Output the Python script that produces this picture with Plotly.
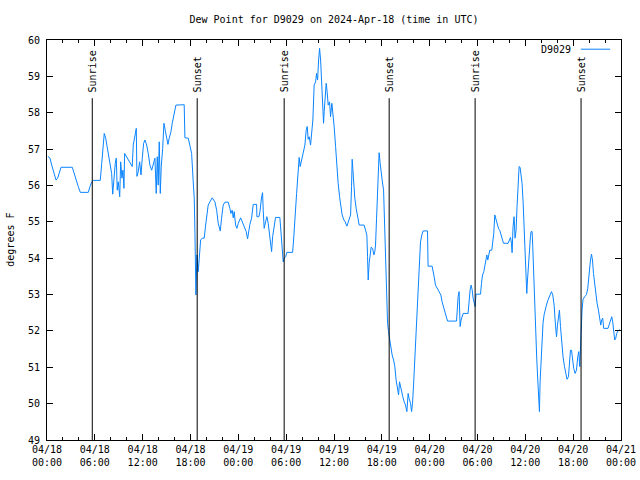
import pandas as pd
import plotly.graph_objects as go

# ---- data ----
start = "2024-04-18 00:00"
hours = [0.1, 0.38, 0.59, 0.79, 1.13, 1.34, 1.63, 1.76, 3.17, 3.42, 3.72, 3.92, 4.18, 5.18, 5.39, 5.60, 5.80, 6.68,
         6.86, 7.06, 7.18, 7.36, 7.61, 7.90, 8.11, 8.24, 8.40, 8.56, 8.69, 8.81, 8.94, 9.12, 9.24, 9.40, 9.53, 9.65,
         9.74, 9.99, 10.28, 10.53, 10.69, 10.82, 11.03, 11.20, 11.28, 11.45, 11.62, 11.79, 11.95, 12.12, 12.29, 12.50,
         12.70, 12.91, 13.13, 13.33, 13.54, 13.70, 13.83, 13.95, 14.08, 14.21, 14.33, 14.51, 14.67, 14.83, 15.01,
         15.17, 15.33, 15.55, 15.71, 15.96, 16.17, 17.21, 17.30, 17.72, 17.93, 18.14, 18.34, 18.47, 18.56, 18.68,
         18.81, 18.97, 19.10, 19.27, 19.47, 19.72, 19.90, 20.06, 20.22, 20.44, 20.72, 21.06, 21.28, 21.48, 21.73,
         21.90, 22.10, 22.32, 22.73, 22.94, 23.07, 23.23, 23.36, 23.48, 23.66, 23.82, 23.99, 24.29, 24.49, 24.74,
         24.99, 25.16, 25.33, 25.45, 25.66, 25.87, 26.29, 26.33, 26.58, 26.71, 26.92, 27.04, 27.12, 27.24, 27.42,
         27.58, 27.75, 27.92, 28.08, 28.17, 28.30, 28.46, 28.67, 29.21, 29.34, 29.50, 29.63, 29.75, 29.93, 30.09,
         30.81, 30.93, 31.06, 31.18, 31.31, 31.43, 31.56, 31.63, 31.76, 31.93, 32.18, 32.35, 32.51, 32.64, 32.76,
         32.89, 33.06, 33.23, 33.35, 33.51, 33.69, 33.81, 33.94, 34.07, 34.19, 34.32, 34.44, 34.57, 34.69, 34.77,
         34.89, 35.02, 35.14, 35.27, 35.44, 35.57, 35.73, 35.86, 36.02, 36.20, 36.36, 36.52, 36.70, 36.86, 37.02,
         37.24, 37.36, 37.62, 37.87, 38.08, 38.20, 38.28, 38.36, 38.45, 38.61, 38.78, 38.96, 39.16, 39.78, 39.96,
         40.12, 40.21, 40.29, 40.41, 40.54, 40.66, 40.84, 41.00, 41.12, 41.21, 41.34, 41.46, 41.59, 41.66, 41.79,
         41.91, 42.04, 42.22, 42.34, 42.47, 42.59, 42.72, 42.84, 43.00, 43.13, 43.29, 43.47, 43.63, 43.79, 43.97,
         44.10, 44.22, 44.35, 44.47, 44.63, 44.80, 44.97, 45.14, 45.22, 45.30, 45.42, 45.60, 45.73, 45.85, 45.98,
         46.10, 46.23, 46.35, 46.48, 46.60, 46.73, 46.85, 47.02, 47.18, 47.73, 47.80, 48.31, 48.43, 48.56, 48.73,
         48.99, 49.19, 49.40, 49.56, 49.74, 49.90, 50.07, 50.24, 51.37, 51.45, 51.57, 51.69, 51.82, 51.94, 52.07,
         52.20, 52.82, 52.95, 53.07, 53.20, 53.32, 53.45, 53.57, 53.70, 53.82, 54.38, 54.50, 54.63, 54.79, 54.92,
         55.04, 55.17, 55.29, 55.42, 55.54, 55.79, 55.92, 56.04, 56.17, 56.29, 56.46, 56.63, 56.80, 56.96, 57.13,
         57.26, 57.84, 57.96, 58.14, 58.26, 58.34, 58.46, 58.59, 58.71, 58.84, 58.96, 59.09, 59.22, 59.34, 59.47,
         59.59, 59.72, 59.84, 59.97, 60.09, 60.18, 60.27, 60.39, 60.52, 60.64, 60.72, 60.85, 60.93, 61.06, 61.18,
         61.31, 61.43, 61.56, 61.68, 61.77, 61.85, 61.97, 62.10, 62.22, 62.35, 62.47, 62.65, 62.81, 63.03, 63.28,
         63.44, 63.61, 63.78, 63.91, 64.03, 64.16, 64.28, 64.41, 64.57, 64.73, 64.91, 65.07, 65.23, 65.41, 65.54,
         65.66, 65.79, 65.91, 66.07, 66.24, 66.41, 66.58, 66.70, 66.83, 66.91, 66.99, 67.11, 67.24, 67.45, 67.67,
         67.83, 67.99, 68.17, 68.30, 68.42, 68.55, 68.67, 68.83, 69.00, 69.17, 69.33, 69.46, 69.58, 69.71, 69.83,
         70.37, 70.50, 70.67, 70.84, 70.96, 71.09, 71.21, 71.34, 71.46, 71.63, 71.84]
dewpoint = [56.8, 56.75, 56.56, 56.38, 56.15, 56.2, 56.45, 56.5, 56.5, 56.3, 56.06, 55.97, 55.81, 55.81, 55.97, 56.09,
            56.14, 56.14, 56.6, 57.25, 57.43, 57.3, 56.95, 56.52, 56.33, 55.76, 56.29, 56.6, 56.75, 55.87, 56.1,
            55.69, 56.65, 56.2, 56.42, 55.92, 56.88, 56.79, 56.65, 56.56, 56.52, 57.11, 57.43, 57.57, 56.25, 56.38,
            56.65, 56.29, 56.75, 57.16, 57.25, 57.11, 56.88, 56.56, 56.42, 56.56, 56.75, 55.78, 56.79, 56.01, 57.2,
            55.78, 56.52, 57.02, 57.71, 57.52, 57.3, 57.13, 57.3, 57.48, 57.71, 57.98, 58.21, 58.22, 57.31, 57.3,
            57.11, 56.88, 56.1, 55.65, 54.68, 52.99, 54.09, 53.63, 54.0, 54.5, 54.55, 54.55, 54.91, 55.28, 55.46,
            55.55, 55.66, 55.55, 55.32, 54.96, 54.75, 55.1, 55.46, 55.54, 55.54, 55.37, 55.23, 55.32, 55.11, 55.28,
            54.91, 54.82, 54.96, 55.11, 55.0, 54.87, 54.73, 54.53, 54.87, 54.93, 55.1, 55.48, 55.48, 55.14, 55.14,
            55.28, 55.69, 55.8, 55.32, 54.82, 55.0, 55.14, 54.96, 54.64, 54.32, 54.18, 54.59, 54.87, 55.12, 55.12,
            54.68, 54.22, 53.9, 54.0, 54.04, 54.16, 54.16, 54.5, 55.0, 55.6, 55.78, 56.15, 56.61, 56.77, 56.52, 56.7,
            56.88, 57.11, 57.52, 57.62, 57.27, 57.34, 57.11, 57.52, 57.8, 58.76, 58.85, 59.08, 58.9, 59.45, 59.77,
            59.45, 58.72, 58.08, 57.71, 58.03, 58.53, 58.81, 58.58, 58.21, 58.3, 57.89, 58.26, 58.03, 57.62, 57.07,
            56.52, 56.06, 55.69, 55.42, 55.19, 55.05, 55.02, 54.88, 55.05, 55.19, 55.97, 56.72, 56.47, 56.1, 55.65,
            55.37, 55.19, 54.91, 54.91, 54.79, 54.64, 54.04, 53.4, 53.86, 54.13, 54.3, 54.27, 54.09, 54.18, 54.36,
            55.1, 55.83, 56.52, 56.9, 56.61, 56.29, 56.15, 55.87, 54.96, 53.95, 52.85, 52.21, 51.98, 51.75, 51.52,
            51.34, 51.2, 51.02, 50.65, 50.42, 50.24, 50.6, 50.47, 50.28, 50.19, 50.05, 49.96, 49.78, 50.01, 50.28,
            50.14, 50.01, 49.78, 50.01, 50.51, 51.02, 51.75, 52.44, 52.85, 53.31, 53.86, 54.45, 54.64, 54.75, 54.75,
            53.78, 53.78, 53.67, 53.49, 53.26, 53.17, 53.1, 52.99, 52.8, 52.67, 52.56, 52.4, 52.27, 52.27, 52.67,
            52.94, 53.08, 52.12, 52.3, 52.44, 52.48, 52.48, 52.85, 53.12, 53.26, 53.14, 52.9, 52.76, 52.67, 53.01,
            53.01, 53.31, 53.54, 53.63, 53.81, 53.95, 54.09, 53.95, 54.13, 54.22, 54.22, 54.41, 54.68, 55.19, 55.1,
            54.91, 54.82, 54.76, 54.64, 54.5, 54.41, 54.41, 54.5, 54.57, 54.41, 54.15, 54.87, 55.14, 54.55, 54.77,
            55.42, 56.1, 56.52, 56.5, 56.24, 56.06, 55.55, 54.87, 54.13, 53.45, 53.03, 53.4, 53.86, 54.36, 54.59,
            54.73, 54.73, 54.32, 53.45, 52.57, 51.84, 51.25, 50.65, 50.05, 49.78, 50.6, 51.25, 51.84, 52.21, 52.44,
            52.57, 52.71, 52.83, 52.94, 53.08, 52.99, 52.71, 52.16, 51.84, 52.16, 52.44, 52.57, 52.12, 51.61, 51.29,
            51.02, 50.83, 50.67, 50.74, 51.11, 51.47, 51.47, 51.15, 50.97, 50.83, 50.92, 51.29, 51.43, 51.02, 51.34,
            51.93, 52.57, 52.87, 52.94, 53.0, 53.17, 53.58, 53.95, 54.11, 53.95, 53.58, 53.31, 52.99, 52.76, 52.57,
            52.35, 52.16, 52.3, 52.35, 52.07, 52.07, 52.16, 52.32, 52.39, 52.25, 52.03, 51.75, 51.8, 51.93, 52.0,
            52.04]

sun_hours = [5.68, 18.84, 29.75, 42.92, 53.70, 66.99]
sun_labels = ["Sunrise", "Sunset", "Sunrise", "Sunset", "Sunrise", "Sunset"]
sun_line_top = 58.4

y_range = [49, 60]
x_range_hours = [0, 72]
series_name = "D9029"
title = "Dew Point for D9029 on 2024-Apr-18 (time in UTC)"
y_title = "degrees F"

# ---- build ----
t0 = pd.Timestamp(start)
times = [t0 + pd.Timedelta(hours=h) for h in hours]
sun_times = [t0 + pd.Timedelta(hours=h) for h in sun_hours]

FONT = "DejaVu Sans Mono"
BLUE = "#0a84ff"

fig = go.Figure()
fig.add_trace(go.Scatter(x=times, y=dewpoint, mode="lines", name=series_name,
                         line=dict(color=BLUE, width=1), showlegend=False))

for t, lab in zip(sun_times, sun_labels):
    fig.add_shape(type="line", xref="x", yref="y", x0=t, x1=t, y0=y_range[0], y1=sun_line_top,
                  line=dict(color="black", width=1))
    fig.add_annotation(x=t, y=sun_line_top, xref="x", yref="y", text=lab, textangle=-90,
                       showarrow=False, xanchor="center", yanchor="bottom", yshift=4,
                       font=dict(family=FONT, size=10, color="black"))

# legend (gnuplot style: text then sample)
fig.add_annotation(xref="paper", yref="paper", x=0.916, y=0.977, text=series_name, showarrow=False,
                   xanchor="right", yanchor="middle", font=dict(family=FONT, size=10, color="black"))
fig.add_shape(type="line", xref="paper", yref="paper", x0=0.93, x1=0.981, y0=0.977, y1=0.977,
              line=dict(color=BLUE, width=1))

fig.add_annotation(xref="paper", yref="paper", x=-0.065, y=0.5, text=y_title, textangle=-90,
                   showarrow=False, xanchor="center", yanchor="middle",
                   font=dict(family=FONT, size=10, color="black"))

fig.update_layout(
    width=640, height=480,
    margin=dict(l=47, r=19, t=40, b=40, autoexpand=False),
    paper_bgcolor="white", plot_bgcolor="white",
    title=dict(text=title, x=0.5, xref="paper", y=1 - 19 / 480, yanchor="middle",
               font=dict(family=FONT, size=10, color="black")),
    font=dict(family=FONT, size=10, color="black"),
)
fig.update_xaxes(
    range=[t0 + pd.Timedelta(hours=x_range_hours[0]), t0 + pd.Timedelta(hours=x_range_hours[1])],
    tickmode="linear", tick0=t0, dtick=6 * 3600 * 1000, tickformat="%m/%d<br>%H:%M",
    ticks="inside", ticklen=6, tickcolor="black", showline=True, linecolor="black", linewidth=1,
    mirror="ticks", showgrid=False, zeroline=False, automargin=False,
    minor=dict(dtick=2 * 3600 * 1000, tick0=t0, ticks="inside", ticklen=3, tickcolor="black", showgrid=False),
    tickfont=dict(family=FONT, size=10, color="black"),
)
fig.update_yaxes(
    range=y_range, tickmode="linear", tick0=49, dtick=1,
    ticks="inside", ticklen=6, tickcolor="black", showline=True, linecolor="black", linewidth=1,
    mirror="ticks", showgrid=False, zeroline=False, automargin=False,
    tickfont=dict(family=FONT, size=10, color="black"), ticklabelstandoff=4,
)

fig.write_html("out.html")
